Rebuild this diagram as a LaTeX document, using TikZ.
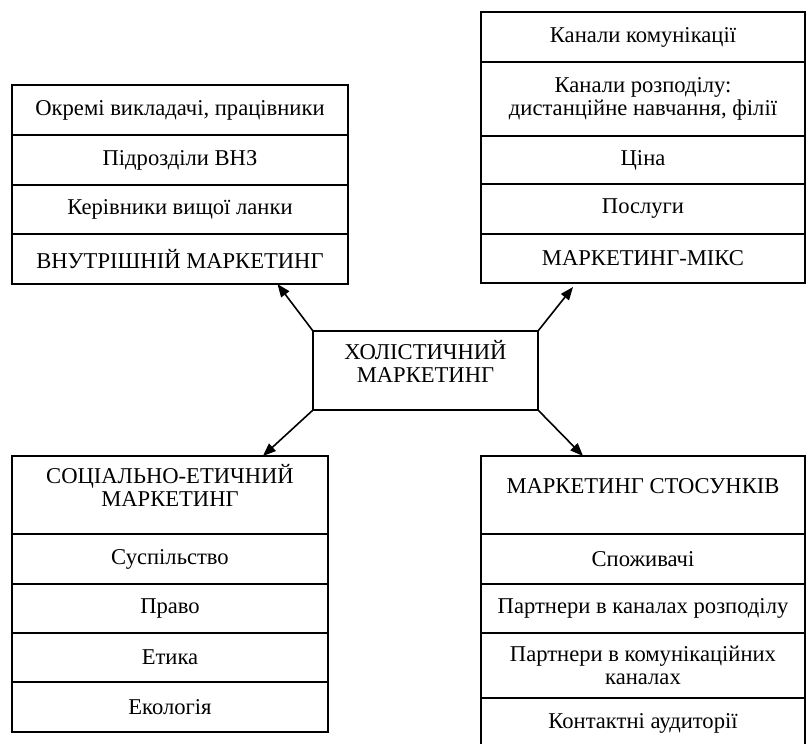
\documentclass[tikz,border=0pt]{standalone}
\usepackage{fontspec}
\setmainfont{Liberation Serif}
\usetikzlibrary{positioning,arrows.meta,calc}

\begin{document}
\begin{tikzpicture}[
  x=0.5pt, y=-0.5pt,
  font=\fontsize{11.3}{11.4}\selectfont, >={Triangle[length=6.5pt,width=5pt]},
  cell/.style={draw, line width=0.6pt, align=center, inner sep=0pt, outer sep=0pt, anchor=north},
  imcell/.style={cell, minimum width=168pt},
  mmcell/.style={cell, minimum width=162pt},
  secell/.style={cell, minimum width=158pt},
  rmcell/.style={cell, minimum width=162pt},
  flow/.style={->, line width=0.8pt},
]
\useasboundingbox (0,0) rectangle (806,743);
% internal marketing (top left)
\node[imcell, minimum height=25pt, anchor=north west] (im1) at (12,85) {Окремі викладачі, працівники};
\node[imcell, minimum height=25pt, below=0pt of im1] (im2) {Підрозділи ВНЗ};
\node[imcell, minimum height=24.5pt, below=0pt of im2] (im3) {Керівники вищої ланки};
\node[imcell, minimum height=25pt, below=0pt of im3] (im4) {ВНУТРІШНІЙ МАРКЕТИНГ};
% marketing mix (top right)
\node[mmcell, minimum height=25pt, anchor=north west] (mm1) at (481,12) {Канали комунікації};
\node[mmcell, minimum height=37pt, below=0pt of mm1] (mm2) {Канали розподілу:\\дистанційне навчання, філії};
\node[mmcell, minimum height=24pt, below=0pt of mm2] (mm3) {Ціна};
\node[mmcell, minimum height=25pt, below=0pt of mm3] (mm4) {Послуги};
\node[mmcell, minimum height=24.5pt, below=0pt of mm4] (mm5) {МАРКЕТИНГ-МІКС};
% holistic marketing (centre)
\node[cell, minimum width=112.5pt, minimum height=39.5pt, anchor=north west] (hol) at (313,331)
  {ХОЛІСТИЧНИЙ\\МАРКЕТИНГ\\[-2pt]};
% socially ethical marketing (bottom left)
\node[secell, minimum height=39pt, anchor=north west] (se1) at (12,456) {СОЦІАЛЬНО-ЕТИЧНИЙ\\МАРКЕТИНГ\\[-2pt]};
\node[secell, minimum height=25pt, below=0pt of se1] (se2) {Суспільство};
\node[secell, minimum height=24.5pt, below=0pt of se2] (se3) {Право};
\node[secell, minimum height=24.5pt, below=0pt of se3] (se4) {Етика};
\node[secell, minimum height=25pt, below=0pt of se4] (se5) {Екологія};
% relationship marketing (bottom right)
\node[rmcell, minimum height=39pt, anchor=north west] (rm1) at (481,456) {МАРКЕТИНГ СТОСУНКІВ\\[-2pt]};
\node[rmcell, minimum height=25pt, below=0pt of rm1] (rm2) {Споживачі};
\node[rmcell, minimum height=24.5pt, below=0pt of rm2] (rm3) {Партнери в каналах розподілу};
\node[rmcell, minimum height=32.5pt, below=0pt of rm3] (rm4) {Партнери в комунікаційних\\каналах};
\node[rmcell, minimum height=25pt, below=0pt of rm4] (rm5) {Контактні аудиторії};
% arrows
\draw[flow] (hol.north west) -- ($(im4.south west)!0.79!(im4.south east)$);
\draw[flow] (hol.north east) -- ($(mm5.south west)!0.284!(mm5.south east)+(0,4)$);
\draw[flow] (hol.south west) -- ($(se1.north west)!0.794!(se1.north east)$);
\draw[flow] (hol.south east) -- ($(rm1.north west)!0.315!(rm1.north east)$);
\end{tikzpicture}
\end{document}
